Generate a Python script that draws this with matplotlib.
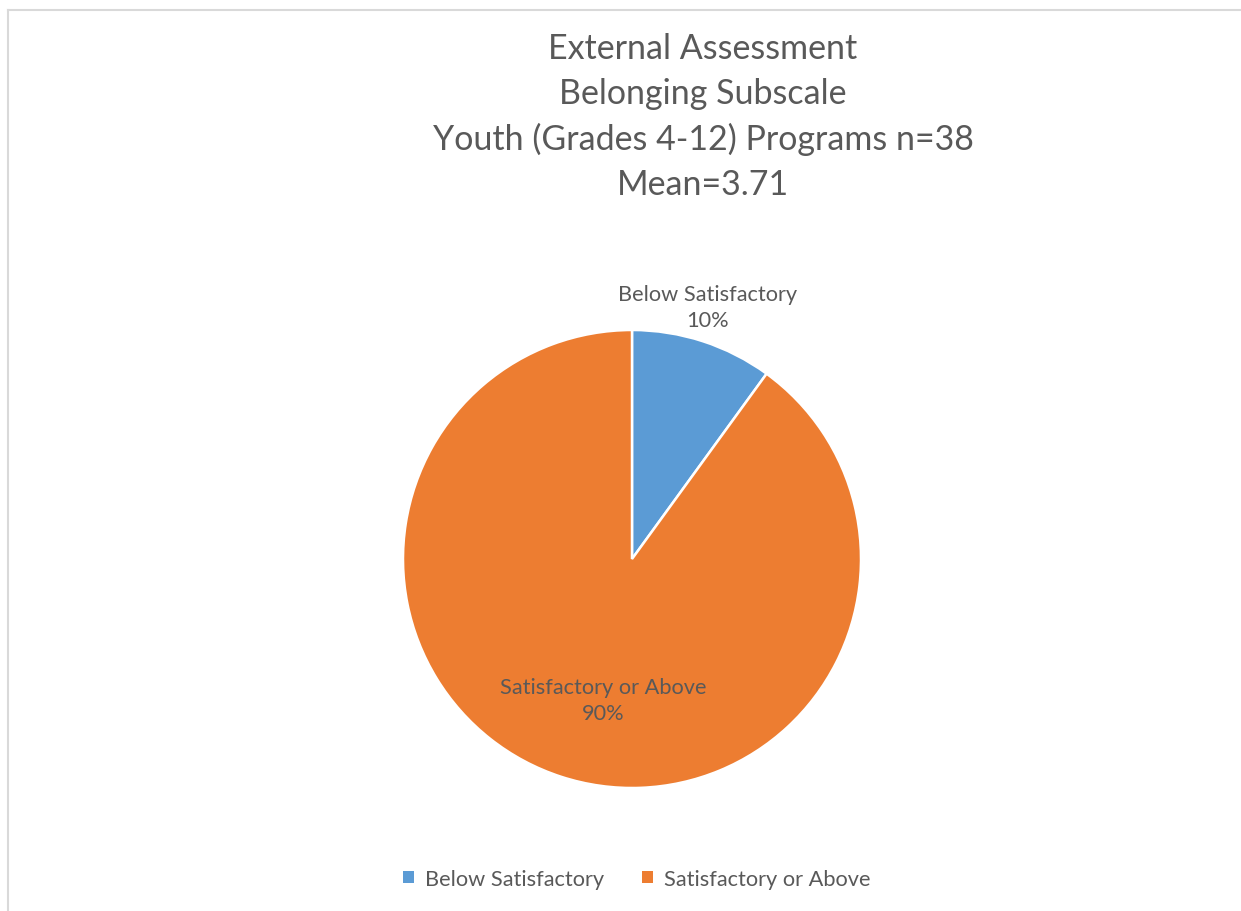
import numpy as np
import matplotlib
matplotlib.use("Agg")
import matplotlib.pyplot as plt
from matplotlib.patches import Patch
from matplotlib.lines import Line2D

categories = ["Below Satisfactory", "Satisfactory or Above"]
shares = [10, 90]
colors = ["#5B9BD5", "#ED7D31"]
title_lines = ["External Assessment", "Belonging Subscale",
               "Youth (Grades 4-12) Programs n=38", "Mean=3.71"]

TEXT = "#595959"
plt.rcParams["font.family"] = ["Lato", "DejaVu Sans"]

W, H = 1241, 912
fig = plt.figure(figsize=(W / 100, H / 100), dpi=100)

# chart area frame (only top and left edges fall inside the image)
fig.add_artist(Line2D([8 / W, 8 / W], [0, 1 - 11 / H], transform=fig.transFigure,
                      color="#D9D9D9", lw=1.5))
fig.add_artist(Line2D([8 / W, 1], [1 - 11 / H, 1 - 11 / H], transform=fig.transFigure,
                      color="#D9D9D9", lw=1.5))

fig.text(703 / W, 1 - 117 / H, "\n".join(title_lines), ha="center", va="center",
         fontsize=24.5, color=TEXT, linespacing=1.5)

cx, cy, r = 632, 560, 229
ax = fig.add_axes([(cx - r) / W, (H - cy - r) / H, 2 * r / W, 2 * r / H])
wedges, _ = ax.pie(shares, colors=colors, startangle=90, counterclock=False,
                   radius=1, wedgeprops=dict(edgecolor="white", linewidth=1.8))
ax.set_xlim(-1, 1)
ax.set_ylim(-1, 1)
ax.set_aspect("equal")
ax.axis("off")

# data labels: first one sits outside the pie, second one inside
label_dist = [1.15, 0.63]
label_shift = [1.3, 6.4]
for w, name, val, d, sh in zip(wedges, categories, shares, label_dist, label_shift):
    ang = np.deg2rad((w.theta1 + w.theta2) / 2 + sh)
    ax.text(d * np.cos(ang), d * np.sin(ang), f"{name}\n{val}%", ha="center", va="center",
            fontsize=15.7, color=TEXT, linespacing=1.38, clip_on=False)

handles = [Patch(facecolor=c, edgecolor="none") for c in colors]
fig.legend(handles, categories, loc="center", bbox_to_anchor=(637 / W, 1 - 880 / H),
           ncol=2, frameon=False, fontsize=15.7, labelcolor=TEXT, handlelength=0.5,
           handleheight=0.5, handletextpad=0.5, columnspacing=1.75)

fig.savefig("out.png", dpi=100, facecolor="white")
